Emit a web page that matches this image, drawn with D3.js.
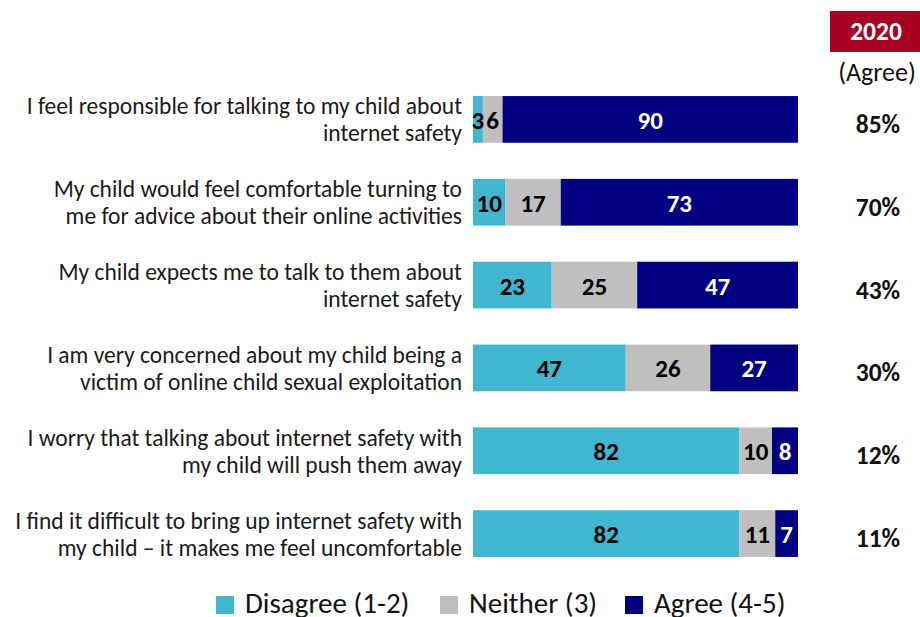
<!DOCTYPE html>
<html>
<head>
<meta charset="utf-8">
<script src="https://cdn.jsdelivr.net/npm/d3@7"></script>
<style>
  body { margin: 0; background: #fff; }
  svg { display: block; }
  text { font-family: Carlito, Calibri, "Open Sans", sans-serif; }
</style>
</head>
<body>
<svg id="chart" width="920" height="617"></svg>
<script>
// Survey statements (two lines each)
const statements = [
  ["I feel responsible for talking to my child about", "internet safety"],
  ["My child would feel comfortable turning to", "me for advice about their online activities"],
  ["My child expects me to talk to them about", "internet safety"],
  ["I am very concerned about my child being a", "victim of online child sexual exploitation"],
  ["I worry that talking about internet safety with", "my child will push them away"],
  ["I find it difficult to bring up internet safety with", "my child \u2013 it makes me feel uncomfortable"]
];
const seriesNames = ["Disagree (1-2)", "Neither (3)", "Agree (4-5)"];
const disagree = [3, 10, 23, 47, 82, 82];
const neither  = [6, 17, 25, 26, 10, 11];
const agree    = [90, 73, 47, 27, 8, 7];
const agree2020 = ["85%", "70%", "43%", "30%", "12%", "11%"];
const yearLabel = "2020";
const yearSub = "(Agree)";

const colors = ["#40B7CE", "#BFBFBF", "#000080"];
const labelColors = ["#000", "#000", "#fff"];

const svg = d3.select("#chart");

const rows = statements.map((s, i) => ({
  idx: i,
  label: s,
  vals: [disagree[i], neither[i], agree[i]],
  pct: agree2020[i]
}));

const y = d3.scaleBand()
  .domain(d3.range(rows.length))
  .range([78, 575])
  .paddingInner(0.436)
  .paddingOuter(0.218);

const barLeft = 473, barRight = 798;

const g = svg.append("g");

rows.forEach(r => {
  // each bar spans the full width, split by the share of each response
  const total = d3.sum(r.vals);
  const x = d3.scaleLinear().domain([0, total]).range([barLeft, barRight]);
  const stacked = d3.cumsum(r.vals);
  const row = g.append("g");
  const y0 = y(r.idx), h = y.bandwidth(), yc = y0 + h / 2;

  r.vals.forEach((v, k) => {
    const start = k === 0 ? 0 : stacked[k - 1];
    row.append("rect")
      .attr("x", x(start))
      .attr("y", y0)
      .attr("width", x(start + v) - x(start))
      .attr("height", h)
      .attr("fill", colors[k]);
  });
  r.vals.forEach((v, k) => {
    const start = k === 0 ? 0 : stacked[k - 1];
    row.append("text")
      .attr("x", (x(start) + x(start + v)) / 2)
      .attr("y", yc + 9.5)
      .attr("text-anchor", "middle")
      .attr("font-size", 25)
      .attr("font-weight", "bold")
      .attr("fill", labelColors[k])
      .text(v);
  });

  // statement text, right-aligned against the bars
  const t = row.append("text")
    .attr("text-anchor", "end")
    .attr("font-size", 23.5)
    .attr("fill", "#1a1a1a");
  r.label.forEach((line, li) => {
    t.append("tspan")
      .attr("x", 462)
      .attr("y", yc - 5 + li * 27)
      .text(line);
  });

  // 2020 agree share
  row.append("text")
    .attr("x", 878)
    .attr("y", yc + 13.5)
    .attr("text-anchor", "middle")
    .attr("font-size", 25.5)
    .attr("font-weight", "bold")
    .attr("fill", "#111")
    .text(r.pct);
});

// column header
svg.append("rect")
  .attr("x", 830).attr("y", 11).attr("width", 90).attr("height", 41)
  .attr("fill", "#A50021");
svg.append("text")
  .attr("x", 876).attr("y", 39.5)
  .attr("text-anchor", "middle")
  .attr("font-size", 25.5).attr("font-weight", "bold").attr("fill", "#fff")
  .text(yearLabel);
svg.append("text")
  .attr("x", 877).attr("y", 81)
  .attr("text-anchor", "middle")
  .attr("font-size", 26).attr("fill", "#111")
  .text(yearSub);

// legend
const legendX = [216, 440, 625];
seriesNames.forEach((name, k) => {
  const lg = svg.append("g").attr("transform", `translate(${legendX[k]},0)`);
  lg.append("rect")
    .attr("x", 0).attr("y", 596).attr("width", 18).attr("height", 18)
    .attr("fill", colors[k]);
  lg.append("text")
    .attr("x", 29).attr("y", 613)
    .attr("font-size", 29).attr("fill", "#111")
    .text(name);
});
</script>
</body>
</html>
